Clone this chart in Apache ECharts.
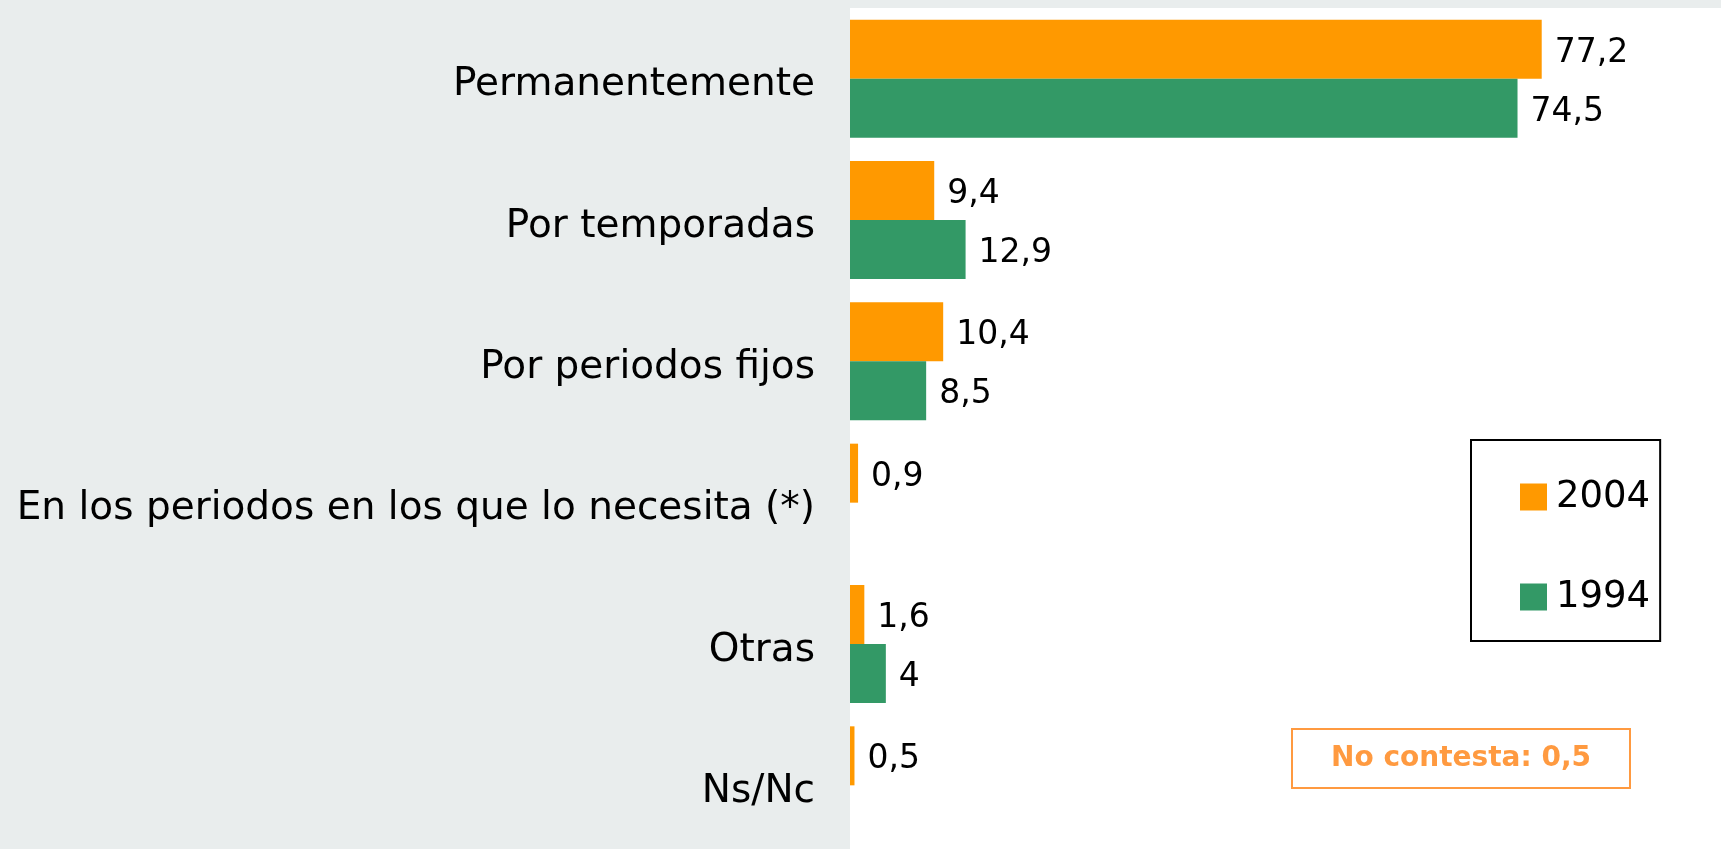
<!DOCTYPE html>
<html>
<head>
<meta charset="utf-8">
<script src="https://cdn.jsdelivr.net/npm/echarts@6/dist/echarts.min.js"></script>
<style>
  html, body { margin: 0; padding: 0; background: #e9eded; }
  #chart { width: 1721px; height: 849px; }
</style>
</head>
<body>
<div id="chart"></div>
<script>
// categorias y valores (%)
var categorias = ['Permanentemente', 'Por temporadas', 'Por periodos fijos',
  'En los periodos en los que lo necesita (*)', 'Otras', 'Ns/Nc'];
var serie2004 = [77.2, 9.4, 10.4, 0.9, 1.6, 0.5];
var serie1994 = [74.5, 12.9, 8.5, '-', 4, '-'];
var nota = 'No contesta: 0,5';

var chart = echarts.init(document.getElementById('chart'));

function coma(p) {
  return String(p.value).replace('.', ',');
}

var option = {
  backgroundColor: '#e9eded',
  animation: false,
  textStyle: { fontFamily: 'DejaVu Sans' },
  grid: {
    left: 850, top: 8, width: 896, height: 848,
    outerBoundsMode: 'none',
    show: true, backgroundColor: '#ffffff', borderWidth: 0
  },
  legend: {
    left: 1471, top: 440,
    orient: 'vertical',
    data: ['2004', '1994'],
    icon: 'rect',
    backgroundColor: '#ffffff',
    borderColor: '#000000',
    borderWidth: 2,
    padding: [37, 10, 24, 49],
    itemWidth: 27, itemHeight: 27,
    itemGap: 60,
    textStyle: { fontSize: 37, color: '#000', lineHeight: 40, padding: [0, 0, 0, 4] }
  },
  xAxis: { type: 'value', min: 0, max: 100, show: false },
  yAxis: {
    type: 'category',
    inverse: true,
    data: categorias,
    axisLine: { show: false },
    axisTick: { show: false },
    axisLabel: {
      fontSize: 39, color: '#000', margin: 35,
      formatter: function (v) { return '{c|' + v + '}'; },
      rich: { c: { fontSize: 39, color: '#000', padding: [13, 0, 0, 0] } }
    }
  },
  series: [
    {
      name: '2004', type: 'bar', data: serie2004,
      barWidth: 59, barGap: '0%',
      itemStyle: { color: '#ff9900' },
      label: { show: true, position: 'right', distance: 13, fontSize: 33, color: '#000',
        offset: [0, 4], formatter: coma }
    },
    {
      name: '1994', type: 'bar', data: serie1994,
      barWidth: 59, barGap: '0%',
      itemStyle: { color: '#339966' },
      label: { show: true, position: 'right', distance: 13, fontSize: 33, color: '#000',
        offset: [0, 4], formatter: coma }
    }
  ],
  graphic: [
    {
      type: 'group', left: 1291, top: 728,
      children: [
        { type: 'rect', shape: { x: 0, y: 0, width: 338, height: 59 },
          style: { fill: '#ffffff', stroke: '#ff9a40', lineWidth: 2 } },
        { type: 'text', x: 169, y: 30,
          style: { text: nota, fill: '#ff9a40', font: 'bold 28px DejaVu Sans', align: 'center', verticalAlign: 'middle' } }
      ]
    }
  ]
};

chart.setOption(option);
</script>
</body>
</html>
